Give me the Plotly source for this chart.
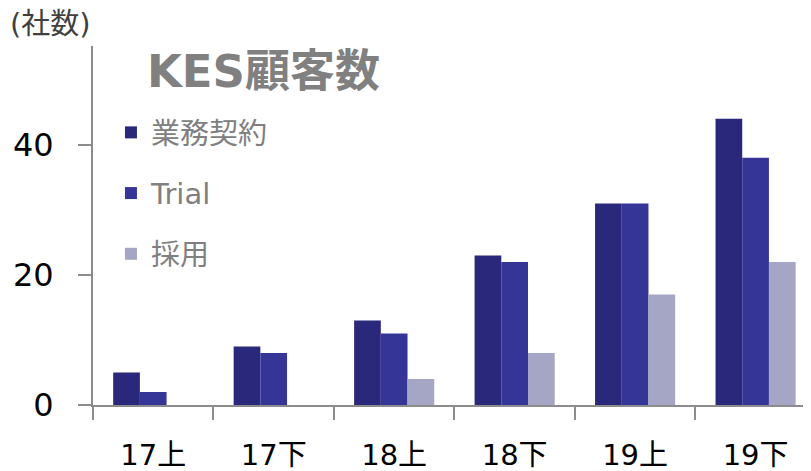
import plotly.graph_objects as go

categories = ["17上", "17下", "18上", "18下", "19上", "19下"]
series_names = ["業務契約", "Trial", "採用"]
gyomu = [5, 9, 13, 23, 31, 44]
trial = [2, 8, 11, 22, 31, 38]
saiyo = [0, 0, 4, 8, 17, 22]
y_ticks = [0, 20, 40]

colors = ["#29287A", "#353598", "#A5A6C5"]
FONT = "DejaVu Sans, Noto Sans CJK JP"

fig = go.Figure()
for i, (name, vals) in enumerate(zip(series_names, [gyomu, trial, saiyo])):
    fig.add_trace(go.Bar(
        x=categories, y=vals, name=name,
        marker=dict(color=colors[i], line=dict(width=0)),
        legendgroup=name,
    ))

# page body has an 8px default margin, so the figure is sized to fit the 811x471 window
fig.update_layout(
    width=803, height=463,
    margin=dict(l=85, r=0, t=38, b=66),
    paper_bgcolor="white", plot_bgcolor="white",
    barmode="group", bargap=0.335, bargroupgap=0,
    font=dict(family=FONT, color="#000000"),
    showlegend=True,
    legend=dict(
        x=0.025, y=0.83, xanchor="left", yanchor="top",
        font=dict(size=29, color="#808080", family=FONT),
        tracegroupgap=20, bgcolor="rgba(0,0,0,0)",
        itemwidth=30,
    ),
    xaxis=dict(
        type="category", range=[-0.5, 5.46], automargin=False,
        showline=True, linecolor="#8c8c8c", linewidth=2,
        ticks="outside", tickson="boundaries", ticklen=13, tickcolor="#8c8c8c", tickwidth=2,
        tickfont=dict(size=29, color="#000000", family=FONT),
        ticklabelstandoff=23,
        showgrid=False, zeroline=False,
    ),
    yaxis=dict(
        range=[0, 55.2], tickvals=y_ticks, automargin=False,
        showline=True, linecolor="#8c8c8c", linewidth=2,
        ticks="outside", ticklen=13, tickcolor="#8c8c8c", tickwidth=2,
        tickfont=dict(size=32, color="#000000", family=FONT),
        ticklabelstandoff=18,
        showgrid=False, zeroline=False,
    ),
    annotations=[
        dict(text="(社数)", xref="paper", yref="paper", x=-0.118, y=1.06, xanchor="left", yanchor="middle",
             showarrow=False, font=dict(size=29, color="#404040", family=FONT)),
        dict(text="<b>KES顧客数</b>", xref="paper", yref="paper", x=0.073, y=0.928, xanchor="left", yanchor="middle",
             showarrow=False, font=dict(size=45, color="#808080", family=FONT)),
    ],
)

fig.write_html("out.html")
